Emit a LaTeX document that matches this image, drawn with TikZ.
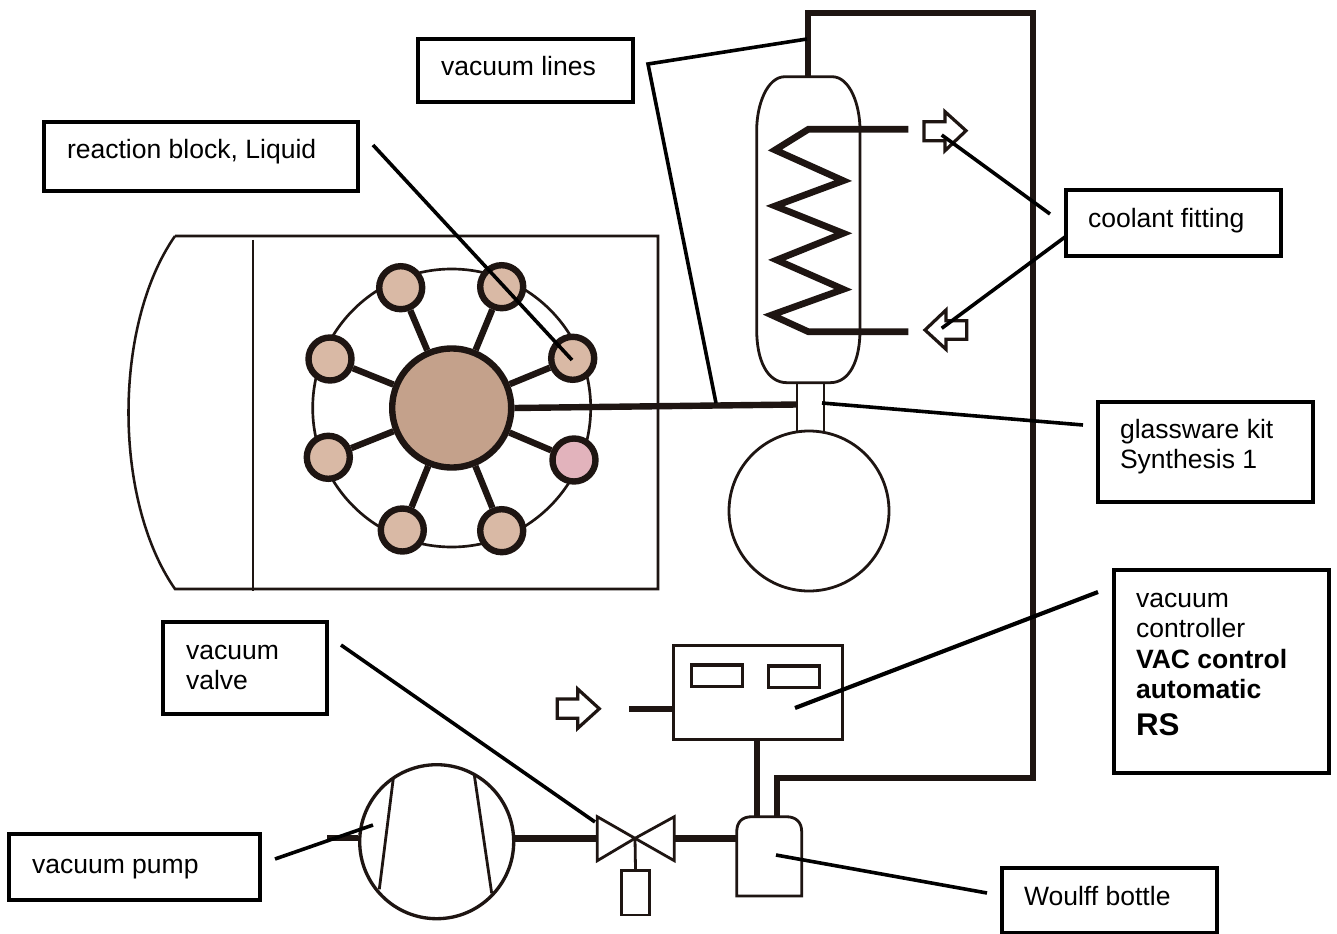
\documentclass[tikz,border=0pt]{standalone}
\usepackage{fontspec}
\setmainfont{Liberation Sans}
\newdimen\pxu \pxu=0.75pt
\newcommand{\lbl}[5]{\parbox[c][#2\pxu][t]{#1\pxu}{\fontsize{19.9pt}{22.9pt}\selectfont\leftskip=#3\pxu\rightskip=0pt plus 1fil\parindent=0pt\vspace*{#4\pxu}#5}}
\definecolor{ink}{HTML}{1E1512}
\definecolor{hub}{HTML}{C4A18B}
\definecolor{tan}{HTML}{D9B9A5}
\definecolor{pinkv}{HTML}{E2B3BC}
\tikzset{
  thin line/.style={draw=ink,line width=2.1pt},
  pipe/.style={draw=ink,line width=4.8pt},
  vacline/.style={draw=ink,line width=4.8pt,line join=miter},
  lead/.style={draw=black,line width=2.7pt},
  lab/.style={draw=black,line width=2.7pt,fill=white,inner sep=0pt,text=black},
  well/.style={circle,draw=ink,line width=4.8pt,minimum size=43\pxu,inner sep=0pt,fill=tan},
  arrowout/.style={draw=ink,line width=2.4pt,fill=white,line join=miter},
}
\begin{document}
\begin{tikzpicture}[x=0.75pt,y=-0.75pt]
\useasboundingbox[fill=white] (0,0) rectangle (1337,934);
% block
\draw[thin line,line width=1.9pt] (175,236) -- (658,236) -- (658,589) -- (175,589) .. controls (113,500) and (113,325) .. (175,236);
\draw[thin line,line width=1.9pt] (253,240) -- (253,591);
% vacuum line outer
\coordinate (vtop) at (808,77);
\coordinate (vbot) at (777,817);
\draw[vacline] (vtop) -- (808,13) -- (1033,13) -- (1033,778) -- (777,778) -- (vbot);
% ring
\draw[draw=ink,line width=2pt] (451.7,408) circle (139);
\node[circle,draw=ink,line width=4.8pt,fill=hub,minimum size=119\pxu,inner sep=0pt] (hub) at (451.7,408) {};
\foreach \n/\x/\y/\c in {a/400.7/287.7/tan,b/501.7/286.7/tan,c/572.7/358.3/tan,d/574/460/pinkv,e/501.7/530.7/tan,f/402.3/530/tan,g/328.3/457.3/tan,h/330/359/tan}{
  \node[well,fill=\c] (\n) at (\x,\y) {};
  \draw[pipe] (hub) -- (\n);
}
% condenser
\draw[thin line,fill=white] (785,76.7) -- (832,76.7) .. controls (850,76.7) and (860,105) .. (860,130) -- (860,330) .. controls (860,360) and (850,382.7) .. (830,382.7) -- (787,382.7) .. controls (767,382.7) and (756.7,360) .. (756.7,330) -- (756.7,130) .. controls (756.7,105) and (767,76.7) .. (785,76.7) -- cycle;
% neck and flask
\node[circle,draw=ink,line width=2.1pt,minimum size=160\pxu,inner sep=0pt,fill=white] (flask) at (809,511) {};
\draw[thin line] (797,382.7) -- (797,433);
\draw[thin line] (824,382.7) -- (824,433);
\coordinate (feed) at (797,404.5);
\draw[pipe] (hub.east) -- (feed);
% coil
\coordinate (c1) at (908.3,129.3);
\coordinate (c2) at (908.3,331.7);
\draw[pipe,line join=miter,line width=5pt] (c1) -- (808.3,129.3) -- (775,150) -- (843.3,180.7) -- (775,206) -- (843.3,233.3) -- (776.7,260) -- (843.3,289.3) -- (771.7,315) -- (808.3,331.7) -- (c2);
% coolant arrows
\draw[arrowout] (924,121.7) -- (945,121.7) -- (945,111.7) -- (966,130.7) -- (945,150.7) -- (945,140.7) -- (924,140.7) -- cycle;
\draw[arrowout] (966.7,320.7) -- (946,320.7) -- (946,310) -- (925,330) -- (946,349.3) -- (946,339.3) -- (966.7,339.3) -- cycle;
\draw[arrowout] (557.3,699) -- (577.7,699) -- (577.7,689) -- (599.3,708.7) -- (577.7,728.3) -- (577.7,718.3) -- (557.3,718.3) -- cycle;
% controller
\node[draw=ink,line width=2.4pt,minimum width=169\pxu,minimum height=94\pxu,inner sep=0pt,fill=white] (ctrl) at (757.8,692.8) {};
\node[draw=ink,line width=2.4pt,minimum width=51\pxu,minimum height=21.7\pxu,inner sep=0pt] (d1) at (717.2,675.8) {};
\node[draw=ink,line width=2.4pt,minimum width=51\pxu,minimum height=21.3\pxu,inner sep=0pt] (d2) at (793.8,676.6) {};
\coordinate (cin) at (629.3,709);
\draw[pipe] (cin) -- (cin -| ctrl.west);
% woulff
\coordinate (wtop) at (756.7,817);
\draw[pipe] (wtop |- ctrl.south) -- (wtop);
\draw[thin line,fill=white] (736.7,896) -- (736.7,832) .. controls (736.7,822) and (742,816.7) .. (752,816.7) -- (786,816.7) .. controls (796,816.7) and (801.7,822) .. (801.7,832) -- (801.7,896) -- cycle;
% pump
\node[circle,draw=ink,line width=2.5pt,minimum size=154\pxu,inner sep=0pt] (pump) at (436.7,841.7) {};
\draw[thin line] (393.3,778.3) -- (379.3,889.3);
\draw[thin line] (474.3,775) -- (491.7,893.3);
\coordinate (pin) at (327,838);
\coordinate (vl) at (597.3,838.3);
\coordinate (vr) at (674.3,838.3);
\coordinate (wl) at (736.7,838.3);
\draw[pipe] (pin) -- (pin -| pump.west);
\draw[pipe] (pump.east |- vl) -- (vl);
\draw[pipe] (vr) -- (wl);
% valve
\coordinate (vc) at (635,838.3);
\draw[thin line,line join=miter] (597.3,816.7) -- (597.3,860.7) -- (vc) -- cycle;
\draw[thin line,line join=miter] (674.3,816.7) -- (674.3,860.7) -- (vc) -- cycle;
\node[draw=ink,line width=2.1pt,minimum width=27.6\pxu,minimum height=44.3\pxu,inner sep=0pt] (act) at (635.5,892.8) {};
\draw[thin line] (vc) -- (act.north);
% labels
\node[lab] (lv) at (525.5,70.5) {\lbl{215}{63}{23}{17}{vacuum lines}};
\node[lab] (lr) at (201,156.5) {\lbl{314}{69}{23}{17}{reaction block, Liquid}};
\node[lab] (lc) at (1173.5,223) {\lbl{215}{66}{22}{18}{coolant fitting}};
\node[lab] (lg) at (1205.5,452) {\lbl{215}{100}{22}{17}{glassware kit\\Synthesis 1}};
\node[lab] (lk) at (1221.5,671.5) {\lbl{215}{203}{22}{23}{vacuum\\controller\\\textbf{VAC control}\\\textbf{automatic}\\[4.5pt]{\fontsize{23.5pt}{26pt}\selectfont\textbf{RS}}}};
\node[lab] (lp) at (245,668) {\lbl{164}{92}{23}{23}{vacuum\\valve}};
\node[lab] (lu) at (134.5,867) {\lbl{251}{66}{23}{25}{vacuum pump}};
\node[lab] (lw) at (1109.5,900.5) {\lbl{215}{65}{22}{18}{Woulff bottle}};
% leaders
\coordinate (k1) at (648,64);
\coordinate (k1a) at (807,39);
\coordinate (k1b) at (716,403);
\draw[lead,line join=miter] (k1a) -- (k1) -- (k1b);
\coordinate (r0) at (373,145); \coordinate (r1) at (572,360);
\draw[lead] (r0) -- (r1);
\coordinate (q0) at (1050,214); \coordinate (q1) at (941.7,135);
\draw[lead] (q0) -- (q1);
\coordinate (q2) at (1065,237); \coordinate (q3) at (941.7,328.3);
\draw[lead] (q2) -- (q3);
\coordinate (g0) at (1083,425); \coordinate (g1) at (822,403);
\draw[lead] (g0) -- (g1);
\coordinate (s0) at (1098,592); \coordinate (s1) at (795,708);
\draw[lead,line width=3.1pt] (s0) -- (s1);
\coordinate (v0) at (341,645); \coordinate (v1) at (595,822);
\draw[lead] (v0) -- (v1);
\coordinate (u0) at (275,859); \coordinate (u1) at (373,825);
\draw[lead] (u0) -- (u1);
\coordinate (w0) at (987,893); \coordinate (w1) at (776,855);
\draw[lead] (w0) -- (w1);
\end{tikzpicture}
\end{document}
